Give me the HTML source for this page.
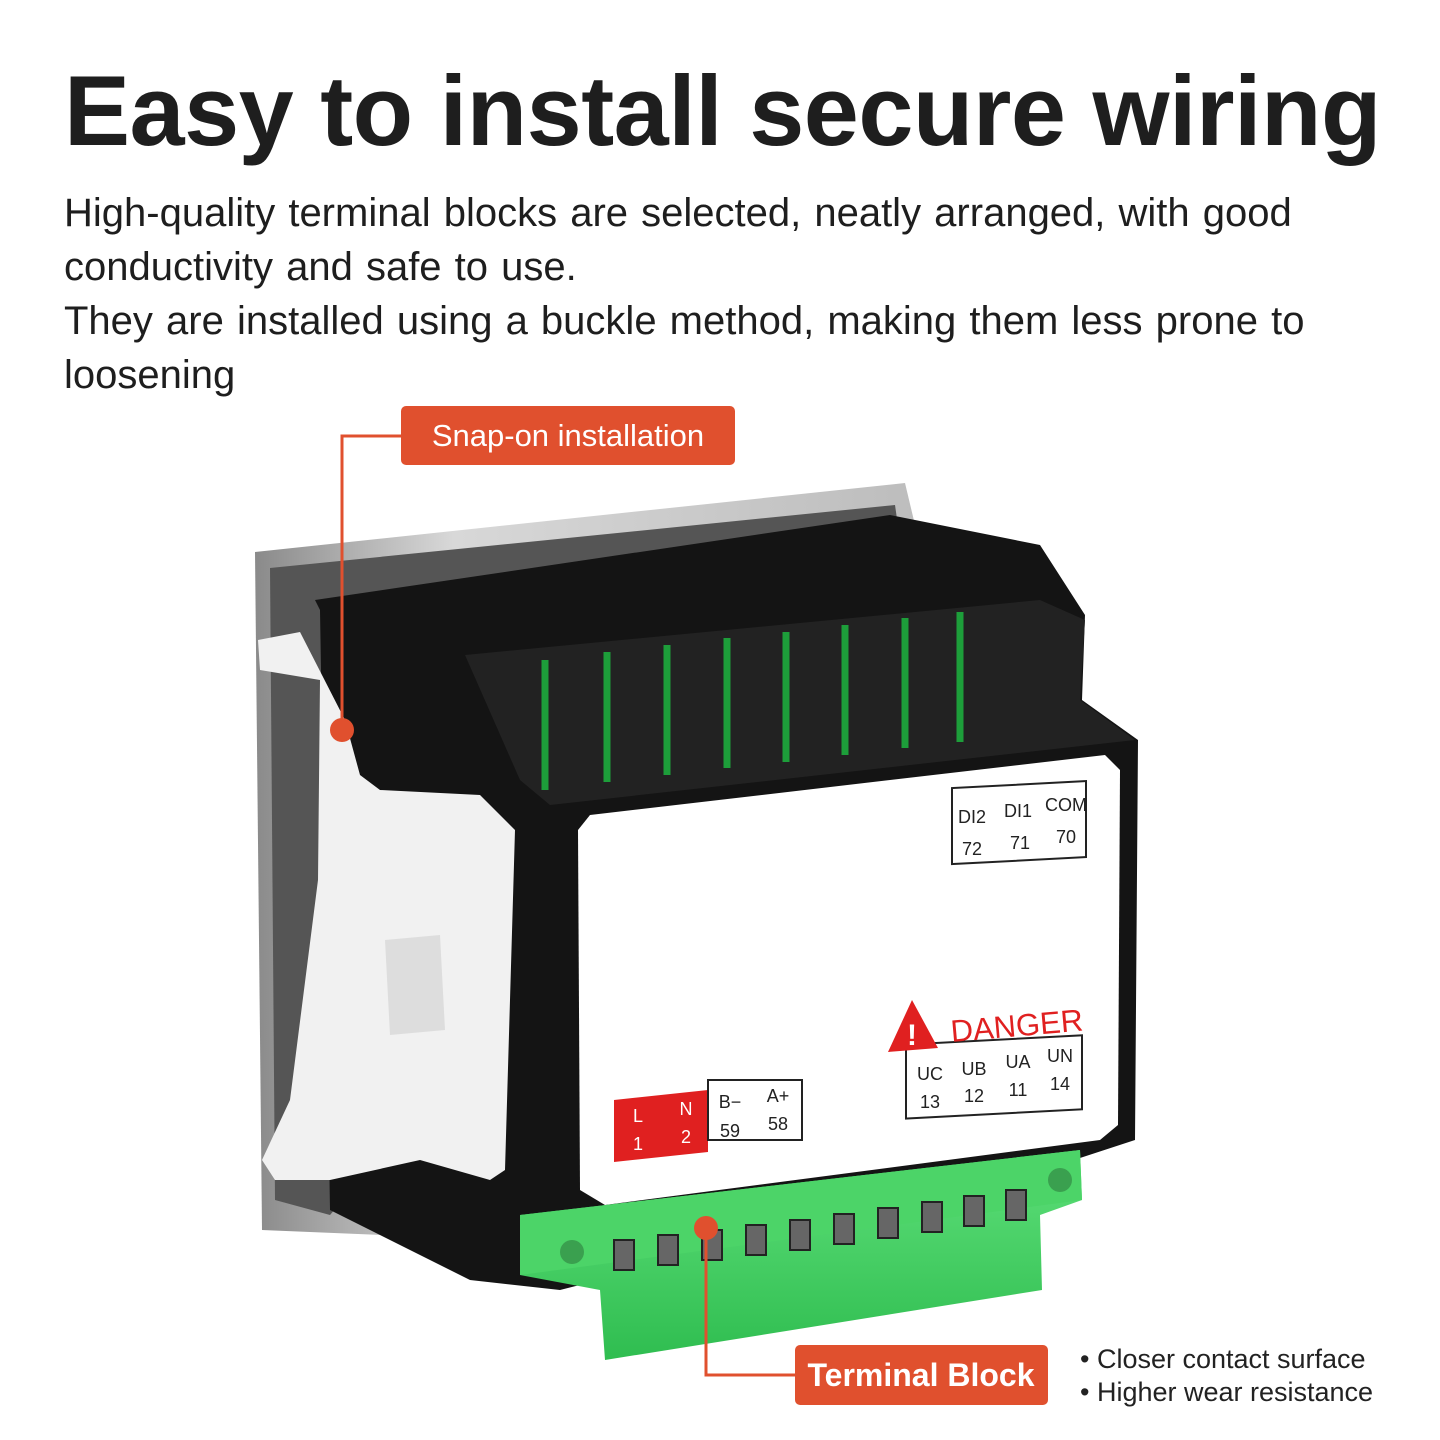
<!DOCTYPE html>
<html><head><meta charset="utf-8"><style>
html,body{margin:0;padding:0;background:#fff}
body{width:1440px;height:1440px;position:relative;overflow:hidden;font-family:"Liberation Sans",sans-serif;color:#1e1e1e}
h1{position:absolute;left:64px;top:54px;margin:0;font-size:99px;font-weight:bold;letter-spacing:-0.5px;white-space:nowrap}
.p{position:absolute;left:64px;top:186px;font-size:40px;line-height:54px;width:1320px;word-spacing:2px}
</style></head><body>
<h1>Easy to install secure wiring</h1>
<div class="p">High-quality terminal blocks are selected, neatly arranged, with good conductivity and safe to use.<br>They are installed using a buckle method, making them less prone to loosening</div>
<svg width="1440" height="1440" style="position:absolute;left:0;top:0">
<defs>
<linearGradient id="bz" x1="0" x2="1"><stop offset="0" stop-color="#8a8a8a"/><stop offset="0.3" stop-color="#d8d8d8"/><stop offset="1" stop-color="#bdbdbd"/></linearGradient>
<linearGradient id="gr" x1="0" y1="0" x2="0" y2="1"><stop offset="0" stop-color="#5fe07a"/><stop offset="1" stop-color="#2fbd50"/></linearGradient>
</defs>
<polygon points="255,552 905,483 915,525 500,1240 262,1230" fill="url(#bz)"/>
<polygon points="270,568 895,505 900,540 330,1215 275,1200" fill="#555"/>
<polygon points="315,600 890,515 1040,545 1085,615 1082,700 1138,740 1135,1140 1080,1158 560,1290 470,1280 330,1210 320,610" fill="#141414"/>
<polygon points="465,655 1040,600 1085,620 1080,700 1135,740 550,805 520,780" fill="#222"/>
<g stroke="#1d9e3a" stroke-width="7">
<line x1="545" y1="660" x2="545" y2="790"/><line x1="607" y1="652" x2="607" y2="782"/><line x1="667" y1="645" x2="667" y2="775"/><line x1="727" y1="638" x2="727" y2="768"/><line x1="786" y1="632" x2="786" y2="762"/><line x1="845" y1="625" x2="845" y2="755"/><line x1="905" y1="618" x2="905" y2="748"/><line x1="960" y1="612" x2="960" y2="742"/>
</g>
<polygon points="590,815 1105,755 1120,770 1118,1125 1100,1140 605,1205 580,1190 578,830" fill="#fff"/>
<polygon points="258,640 300,632 345,720 360,775 380,790 480,795 515,830 505,1170 490,1180 420,1160 330,1180 275,1180 262,1160 290,1100 318,880 320,680 260,670" fill="#f1f1f1"/>
<polygon points="385,940 440,935 445,1030 390,1035" fill="#ddd"/>
<polygon points="520,1215 1080,1150 1082,1200 1040,1215 1042,1290 605,1360 600,1290 520,1275" fill="url(#gr)"/>
<polygon points="520,1215 1080,1150 1082,1200 520,1275" fill="#4cd468"/>
<g fill="#666" stroke="#222" stroke-width="2">
<rect x="614" y="1240" width="20" height="30"/><rect x="658" y="1235" width="20" height="30"/><rect x="702" y="1230" width="20" height="30"/><rect x="746" y="1225" width="20" height="30"/><rect x="790" y="1220" width="20" height="30"/><rect x="834" y="1214" width="20" height="30"/><rect x="878" y="1208" width="20" height="30"/><rect x="922" y="1202" width="20" height="30"/><rect x="964" y="1196" width="20" height="30"/><rect x="1006" y="1190" width="20" height="30"/>
</g>
<circle cx="572" cy="1252" r="12" fill="#3aa04f"/><circle cx="1060" cy="1180" r="12" fill="#3aa04f"/>
<g font-size="18" fill="#222" text-anchor="middle">
<rect x="952" y="788" width="134" height="76" fill="none" stroke="#222" stroke-width="2" transform="skewY(-3) translate(0,50)"/>
<text x="972" y="823">DI2</text><text x="1018" y="817">DI1</text><text x="1066" y="811">COM</text>
<text x="972" y="855">72</text><text x="1020" y="849">71</text><text x="1066" y="843">70</text>
<rect x="906" y="1040" width="176" height="74" fill="none" stroke="#222" stroke-width="2" transform="skewY(-3) translate(0,52)"/>
<text x="930" y="1080">UC</text><text x="974" y="1075">UB</text><text x="1018" y="1068">UA</text><text x="1060" y="1062">UN</text>
<text x="930" y="1108">13</text><text x="974" y="1102">12</text><text x="1018" y="1096">11</text><text x="1060" y="1090">14</text>
<polygon points="614,1100 708,1090 708,1152 614,1162" fill="#e02020"/>
<rect x="708" y="1080" width="94" height="60" fill="none" stroke="#222" stroke-width="2"/>
<text x="638" y="1122" fill="#fff">L</text><text x="686" y="1115" fill="#fff">N</text><text x="638" y="1150" fill="#fff">1</text><text x="686" y="1143" fill="#fff">2</text>
<text x="730" y="1108">B−</text><text x="778" y="1102">A+</text><text x="730" y="1137">59</text><text x="778" y="1130">58</text>
</g>
<polygon points="912,1000 888,1052 938,1048" fill="#e02020"/>
<text x="912" y="1045" font-size="30" fill="#fff" text-anchor="middle" font-weight="bold">!</text>
<text x="950" y="1036" font-size="31" fill="#e02020" transform="rotate(-5 1020 1020)">DANGER</text>
<g stroke="#e0502e" stroke-width="3" fill="none">
<polyline points="401,436 342,436 342,730"/><polyline points="706,1228 706,1375 795,1375"/>
</g>
<circle cx="342" cy="730" r="12" fill="#e0502e"/><circle cx="706" cy="1228" r="12" fill="#e0502e"/>
<rect x="401" y="406" width="334" height="59" rx="5" fill="#e0502e"/>
<text x="568" y="446" font-size="31" fill="#fff" text-anchor="middle">Snap-on installation</text>
<rect x="795" y="1345" width="253" height="60" rx="5" fill="#e0502e"/>
<text x="921" y="1386" font-size="32" fill="#fff" text-anchor="middle" font-weight="bold">Terminal Block</text>
<text x="1080" y="1368" font-size="27" fill="#222">• Closer contact surface</text>
<text x="1080" y="1401" font-size="27" fill="#222">• Higher wear resistance</text>
</svg>
</body></html>
